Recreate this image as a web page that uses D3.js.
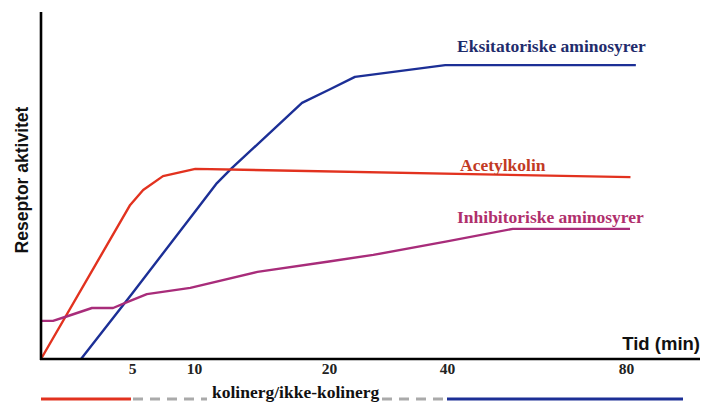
<!DOCTYPE html>
<html>
<head>
<meta charset="utf-8">
<script src="https://cdn.jsdelivr.net/npm/d3@7"></script>
<style>
  html, body { margin: 0; padding: 0; background: #ffffff; }
  svg { display: block; }
</style>
</head>
<body>
<svg id="chart" width="702" height="403"></svg>
<script>
// ---- data ----
const tickValues = [5, 10, 20, 40, 80];
const tickLabels = ["5", "10", "20", "40", "80"];

const acetylkolin = [
  [0, 0], [4.9, 44.4], [5.9, 48.7], [7.5, 52.7], [10.1, 54.8], [81, 52.4]
];
const eksitatoriske = [
  [2.2, 0], [5, 18.8], [10, 42.1], [11.7, 50.7], [12.8, 55], [18, 73.8],
  [20, 77.6], [24.4, 81.3], [39.7, 84.7], [82.2, 84.7]
];
const inhibitoriske = [
  [0, 11.0], [0.66, 11.0], [1.32, 12.1], [2.8, 14.7], [3.96, 14.7], [4.73, 16.4],
  [6.2, 18.7], [9.7, 20.5], [14.7, 25.1], [20, 28.1], [27.5, 30.0], [40, 33.9],
  [54.7, 37.5], [80.9, 37.5]
];

const seriesNames = ["Eksitatoriske aminosyrer", "Acetylkolin", "Inhibitoriske aminosyrer"];
const axisTitles = ["Reseptor aktivitet", "Tid (min)"];
const bottomLabel = "kolinerg/ikke-kolinerg";

// ---- scales ----
const svg = d3.select("#chart");
const x = d3.scaleLinear().domain([0, 5, 10, 20, 40, 80]).range([41, 132, 194, 329, 447, 626]);
const y = d3.scaleLinear().domain([0, 100]).range([359, 12]);

const serif = "'Liberation Serif', 'Times New Roman', serif";
const sans = "'Liberation Sans', Arial, sans-serif";

const line = d3.line().x(d => x(d[0])).y(d => y(d[1]));

// ---- series ----
const series = [
  { data: eksitatoriske, color: "#1c2f96" },
  { data: acetylkolin, color: "#e2321f" },
  { data: inhibitoriske, color: "#a82c7a" }
];
svg.selectAll("path.series").data(series).join("path")
  .attr("class", "series")
  .attr("d", d => line(d.data))
  .attr("fill", "none")
  .attr("stroke", d => d.color)
  .attr("stroke-width", 2.4)
  .attr("stroke-linejoin", "round");

// ---- axes ----
svg.append("line").attr("x1", 41).attr("x2", 41).attr("y1", 12).attr("y2", 360)
  .attr("stroke", "#000").attr("stroke-width", 2.6);
svg.append("line").attr("x1", 40).attr("x2", 700).attr("y1", 359).attr("y2", 359)
  .attr("stroke", "#000").attr("stroke-width", 2.4);

const xAxis = d3.axisBottom(x).tickValues(tickValues).tickFormat((d, i) => tickLabels[i])
  .tickSize(0).tickPadding(4);
const gx = svg.append("g").attr("transform", "translate(0,359)").call(xAxis);
gx.select(".domain").remove();
gx.selectAll("text").attr("font-family", serif).attr("font-weight", "bold")
  .attr("font-size", 15.5).attr("fill", "#222");

// axis titles
svg.append("text").attr("transform", "translate(28,180) rotate(-90)")
  .attr("text-anchor", "middle").attr("font-family", sans).attr("font-weight", "bold")
  .attr("font-size", 17.5).attr("fill", "#111").text(axisTitles[0]);
svg.append("text").attr("x", 700).attr("y", 350).attr("text-anchor", "end")
  .attr("font-family", sans).attr("font-weight", "bold").attr("font-size", 18.5)
  .attr("fill", "#111").text(axisTitles[1]);

// series labels
const labels = [
  { text: seriesNames[0], x: 457, y: 52, color: "#1f2c6c" },
  { text: seriesNames[1], x: 460, y: 171, color: "#c23a24" },
  { text: seriesNames[2], x: 457, y: 223, color: "#b02f6c" }
];
svg.selectAll("text.lbl").data(labels).join("text")
  .attr("class", "lbl")
  .attr("x", d => d.x).attr("y", d => d.y)
  .attr("font-family", serif).attr("font-weight", "bold").attr("font-size", 17.5)
  .attr("fill", d => d.color).text(d => d.text);

// bottom legend bar
svg.append("line").attr("x1", 41).attr("x2", 131).attr("y1", 399).attr("y2", 399)
  .attr("stroke", "#e2321f").attr("stroke-width", 3);
svg.append("line").attr("x1", 133).attr("x2", 207).attr("y1", 399).attr("y2", 399)
  .attr("stroke", "#aaaaaa").attr("stroke-width", 3).attr("stroke-dasharray", "10,7");
svg.append("text").attr("x", 212).attr("y", 397.5).attr("font-family", serif)
  .attr("font-weight", "bold").attr("font-size", 17.5).attr("fill", "#111").text(bottomLabel);
svg.append("line").attr("x1", 382).attr("x2", 446).attr("y1", 399).attr("y2", 399)
  .attr("stroke", "#aaaaaa").attr("stroke-width", 3).attr("stroke-dasharray", "10,7");
svg.append("line").attr("x1", 447).attr("x2", 683).attr("y1", 399).attr("y2", 399)
  .attr("stroke", "#1c2f96").attr("stroke-width", 3);
</script>
</body>
</html>
